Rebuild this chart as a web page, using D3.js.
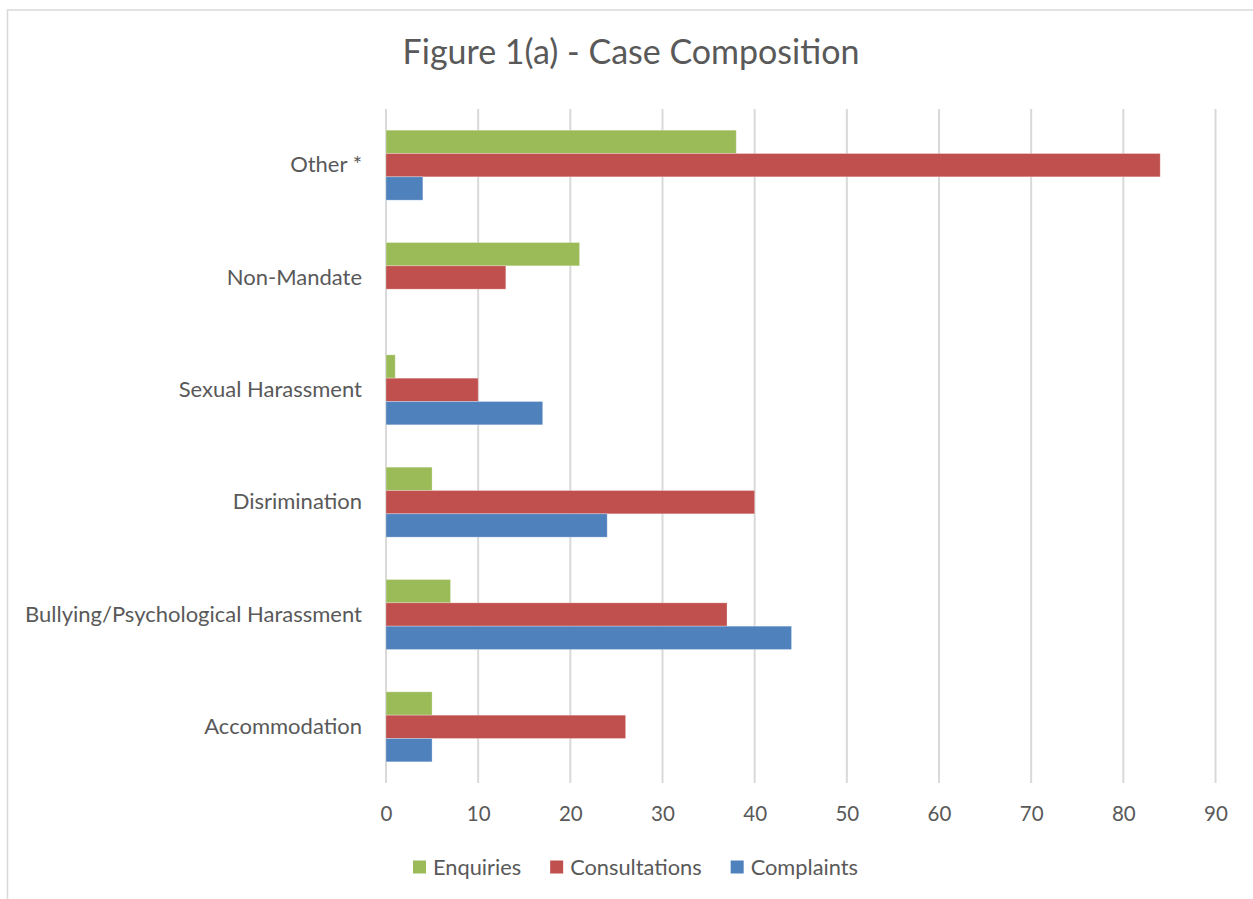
<!DOCTYPE html>
<html>
<head>
<meta charset="utf-8">
<script src="https://cdn.jsdelivr.net/npm/d3@7"></script>
<style>
  html, body { margin: 0; padding: 0; background: #fff; }
  svg { display: block; }
  text { font-family: Lato, "Open Sans", sans-serif; fill: #595959; }
</style>
</head>
<body>
<svg id="chart" width="1253" height="899"></svg>
<script>
const title = "Figure 1(a) - Case Composition";
const categories = ["Other *", "Non-Mandate", "Sexual Harassment", "Disrimination", "Bullying/Psychological Harassment", "Accommodation"];
const seriesNames = ["Enquiries", "Consultations", "Complaints"];
const enquiries     = [38, 21, 1, 5, 7, 5];
const consultations = [84, 13, 10, 40, 37, 26];
const complaints    = [4, 0, 17, 24, 44, 5];
const tickValues = [0, 10, 20, 30, 40, 50, 60, 70, 80, 90];
const colors = ["#9BBB59", "#C0504D", "#4F81BD"];

const seriesValues = [enquiries, consultations, complaints];

const svg = d3.select("#chart");
const W = 1253, H = 899;

// outer chart border (left and top visible)
svg.append("rect")
  .attr("x", 7.5).attr("y", 10)
  .attr("width", W + 20).attr("height", H + 20)
  .attr("fill", "none").attr("stroke", "#d9d9d9").attr("stroke-width", 1.5);

const plot = { left: 386, right: 1215.5, top: 109, bottom: 783 };

const x = d3.scaleLinear().domain([0, 90]).range([plot.left, plot.right]);
const y = d3.scaleBand().domain(categories).range([plot.top, plot.bottom])
  .paddingInner(0.377).paddingOuter(0.1885);
const ySub = d3.scaleBand().domain(seriesNames).range([0, y.bandwidth()]).padding(0);

// gridlines
const grid = svg.append("g");
grid.selectAll("line").data(tickValues).join("line")
  .attr("x1", d => x(d)).attr("x2", d => x(d))
  .attr("y1", plot.top).attr("y2", plot.bottom)
  .attr("stroke", "#d9d9d9").attr("stroke-width", 2);

// bars
const rows = categories.map((c, i) => ({ cat: c, vals: seriesNames.map((s, j) => ({ s, j, v: seriesValues[j][i] })) }));
const g = svg.append("g");
g.selectAll("g.cat").data(rows).join("g")
  .attr("class", "cat")
  .attr("transform", d => `translate(0,${y(d.cat)})`)
  .selectAll("rect").data(d => d.vals.filter(e => e.v > 0)).join("rect")
  .attr("x", x(0))
  .attr("y", d => ySub(d.s))
  .attr("width", d => x(d.v) - x(0))
  .attr("height", ySub.bandwidth())
  .attr("fill", d => colors[d.j])
  .attr("stroke", "#ffffff").attr("stroke-opacity", 0.35).attr("stroke-width", 0.8);

// x axis tick labels
const xAxis = d3.axisBottom(x).tickValues(tickValues).tickSize(0).tickPadding(0);
const xa = svg.append("g").attr("transform", `translate(0,${plot.bottom})`).call(xAxis);
xa.select(".domain").remove();
xa.selectAll("text")
  .attr("dy", null).attr("y", 37.5)
  .style("font-size", "20.5px").style("font-family", "Lato, sans-serif").attr("fill", "#595959");

// y axis category labels
const yAxis = d3.axisLeft(y).tickSize(0).tickPadding(24);
const ya = svg.append("g").attr("transform", `translate(${plot.left},0)`).call(yAxis);
ya.select(".domain").remove();
ya.selectAll("text")
  .style("font-size", "22px").style("font-family", "Lato, sans-serif").attr("fill", "#595959");

// title
svg.append("text")
  .attr("x", 631).attr("y", 64)
  .attr("text-anchor", "middle")
  .style("font-size", "34px")
  .text(title);

// legend
const legend = svg.append("g");
const items = legend.selectAll("g").data(seriesNames).join("g");
items.append("rect")
  .attr("width", 13).attr("height", 13).attr("y", -6.5)
  .attr("fill", (d, i) => colors[i]);
items.append("text")
  .attr("x", 20).attr("y", 0).attr("dy", "0.35em")
  .style("font-size", "21.8px")
  .text(d => d);
let cx = 0;
items.each(function() {
  const w = this.getBBox().width;
  d3.select(this).attr("transform", `translate(${cx},0)`);
  cx += w + 29;
});
const totalW = cx - 29;
legend.attr("transform", `translate(${635.5 - totalW / 2},867)`);
</script>
</body>
</html>
